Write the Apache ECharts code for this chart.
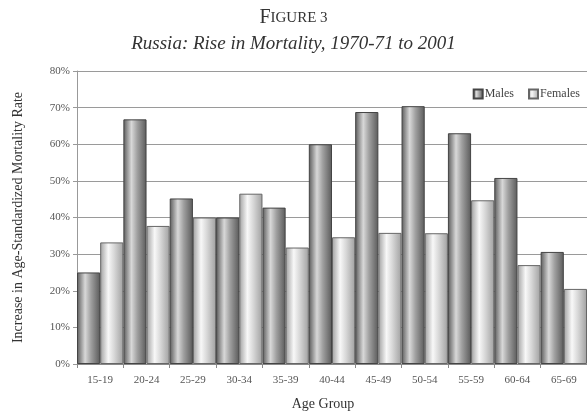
<!doctype html>
<html lang="en">
<head>
    <meta charset="UTF-8">
    <title>Russia: Rise in Mortality</title>
    <style>
        html, body { margin: 0; padding: 0; background: #fff; }
        #main { width: 587px; height: 416px; }
    </style>
    <script src="https://cdnjs.cloudflare.com/ajax/libs/echarts/6.0.0/echarts.min.js"></script>
</head>
<body>
    <div id="main"></div>
    <script>
        var ageGroups = ['15-19', '20-24', '25-29', '30-34', '35-39', '40-44', '45-49', '50-54', '55-59', '60-64', '65-69'];
        var males = [25, 66.8, 45.2, 40, 42.7, 60, 68.8, 70.4, 63, 50.8, 30.6];
        var females = [33.2, 37.7, 40, 46.5, 31.8, 34.6, 35.8, 35.7, 44.7, 27, 20.5];
        var yTicks = [0, 10, 20, 30, 40, 50, 60, 70, 80];

        var serif = '"Liberation Serif", "DejaVu Serif", serif';

        // cylinder-ish shading, like the old spreadsheet 3D look
        function shade(edge, mid, light) {
            return new echarts.graphic.LinearGradient(0, 0, 1, 0, [
                { offset: 0, color: edge },
                { offset: 0.35, color: light },
                { offset: 0.6, color: mid },
                { offset: 1, color: edge }
            ]);
        }

        window.onload = function () {
            var myChart = echarts.init(document.getElementById('main'));
            var option = {
                backgroundColor: '#fff',
                animation: false,
                title: [
                    {
                        text: '{a|F}{b|IGURE 3}',
                        left: 'center',
                        top: 3,
                        textStyle: {
                            fontWeight: 'normal',
                            rich: {
                                a: { fontFamily: serif, fontSize: 20, fontWeight: 'normal', color: '#333' },
                                b: { fontFamily: serif, fontSize: 15, fontWeight: 'normal', color: '#333' }
                            }
                        }
                    },
                    {
                        text: 'Russia: Rise in Mortality, 1970-71 to 2001',
                        left: 'center',
                        top: 29,
                        textStyle: { fontFamily: serif, fontStyle: 'italic', fontWeight: 'normal', fontSize: 19, color: '#333' }
                    }
                ],
                legend: {
                    data: ['Males', 'Females'],
                    right: 2,
                    top: 83,
                    itemWidth: 9,
                    itemHeight: 9,
                    itemGap: 14,
                    icon: 'rect',
                    textStyle: { fontFamily: serif, fontSize: 12, color: '#444', padding: [0, 0, 0, -3] }
                },
                grid: { left: 77, right: 0, top: 71, bottom: 51 },
                xAxis: {
                    type: 'category',
                    data: ageGroups,
                    name: 'Age Group',
                    nameLocation: 'middle',
                    nameGap: 33,
                    nameTextStyle: { fontFamily: serif, fontSize: 14, color: '#333', padding: [0, 18, 0, 0] },
                    axisLine: { lineStyle: { color: '#888' } },
                    axisTick: { show: true, length: 4, lineStyle: { color: '#888' } },
                    axisLabel: { fontFamily: serif, fontSize: 11, color: '#555', margin: 11 }
                },
                yAxis: {
                    type: 'value',
                    min: 0,
                    max: 80,
                    interval: 10,
                    name: 'Increase in Age-Standardized Mortality Rate',
                    nameLocation: 'middle',
                    nameGap: 52,
                    nameTextStyle: { fontFamily: serif, fontSize: 14, color: '#333' },
                    axisLine: { show: true, lineStyle: { color: '#999' } },
                    axisTick: { show: true, length: 4, lineStyle: { color: '#999' } },
                    axisLabel: {
                        fontFamily: serif, fontSize: 11, color: '#555', margin: 7,
                        formatter: function (v) { return yTicks.indexOf(v) >= 0 ? v + '%' : ''; }
                    },
                    splitLine: { lineStyle: { color: '#9a9a9a', width: 1 } }
                },
                series: [
                    {
                        name: 'Males',
                        type: 'bar',
                        data: males,
                        barGap: '0%',
                        barCategoryGap: '0%',
                        itemStyle: { color: shade('#5a5a5a', '#a0a0a0', '#d8d8d8'), borderColor: '#444', borderWidth: 1 }
                    },
                    {
                        name: 'Females',
                        type: 'bar',
                        data: females,
                        itemStyle: { color: shade('#a0a0a0', '#d8d8d8', '#f8f8f8'), borderColor: '#666', borderWidth: 1 }
                    }
                ]
            };
            myChart.setOption(option);
        };
    </script>
</body>
</html>
